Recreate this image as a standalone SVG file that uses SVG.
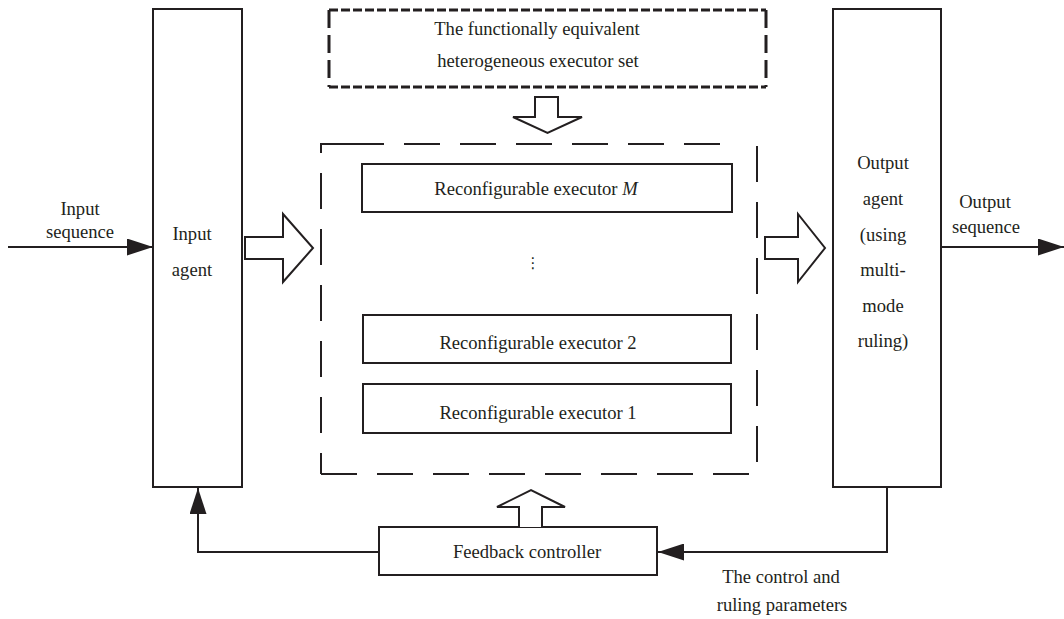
<svg xmlns="http://www.w3.org/2000/svg" width="1064" height="619" viewBox="0 0 1064 619">
  <style>
    .box { fill: #ffffff; stroke: #231f20; stroke-width: 2; }
    .lbl { font-family: "Liberation Serif", "Times New Roman", serif; font-size: 18.6px; fill: #231f20; text-anchor: middle; }
    .wire { fill: none; stroke: #231f20; stroke-width: 2; }
    .hollow { fill: #ffffff; stroke: #231f20; stroke-width: 2; stroke-linejoin: miter; }
    .setH { fill: none; stroke: #231f20; stroke-width: 3; stroke-dasharray: 9 3; }
    .setV { fill: none; stroke: #231f20; stroke-width: 3; stroke-dasharray: 18 7; }
    .pool { fill: none; stroke: #231f20; stroke-width: 2; stroke-dasharray: 36 20; }
  </style>
  <defs>
    <marker id="arrow" markerUnits="userSpaceOnUse" markerWidth="26" markerHeight="17" refX="26" refY="8.5" orient="auto">
      <path d="M0,0 L26,8.5 L0,17 Z" fill="#231f20"/>
    </marker>
  </defs>

  <rect width="1064" height="619" fill="#ffffff"/>

  <!-- executor set (thick short-dashed frame) -->
  <g id="executor-set">
    <path class="setH" d="M329,10 H766 M329,87 H766"/>
    <path class="setV" d="M329,10 V87 M766,10 V87"/>
    <text class="lbl" x="537" y="35">The functionally equivalent</text>
    <text class="lbl" x="538" y="67">heterogeneous executor set</text>
  </g>

  <!-- dashed pool of active executors -->
  <g id="executor-pool">
    <path class="pool" d="M348,144 H321 V474 M321,474 H757 M757,146 V474 M348,144 H740"/>
  </g>

  <g id="input-agent">
    <rect class="box" x="153" y="9" width="89" height="478"/>
    <text class="lbl" x="192" y="240">Input</text>
    <text class="lbl" x="192" y="276">agent</text>
  </g>

  <g id="output-agent">
    <rect class="box" x="833" y="9" width="108" height="478"/>
    <text class="lbl" x="883" y="169">Output</text>
    <text class="lbl" x="883" y="205">agent</text>
    <text class="lbl" x="883" y="241">(using</text>
    <text class="lbl" x="883" y="276">multi-</text>
    <text class="lbl" x="883" y="312">mode</text>
    <text class="lbl" x="883" y="347">ruling)</text>
  </g>

  <g id="executor-m">
    <rect class="box" x="362" y="164" width="370" height="48"/>
    <text class="lbl" x="536" y="195">Reconfigurable executor <tspan font-style="italic">M</tspan></text>
  </g>

  <g id="ellipsis">
    <text x="533" y="268" font-family="'DejaVu Serif', 'DejaVu Sans', serif" font-size="15" fill="#231f20" text-anchor="middle">⋮</text>
  </g>

  <g id="executor-2">
    <rect class="box" x="363" y="315" width="368" height="48"/>
    <text class="lbl" x="538" y="349">Reconfigurable executor 2</text>
  </g>

  <g id="executor-1">
    <rect class="box" x="363" y="384" width="368" height="49"/>
    <text class="lbl" x="538" y="419">Reconfigurable executor 1</text>
  </g>

  <g id="feedback-controller">
    <rect class="box" x="379" y="527" width="278" height="48"/>
    <text class="lbl" x="527" y="558">Feedback controller</text>
  </g>

  <g id="connectors">
    <!-- input / output sequences -->
    <line class="wire" x1="8" y1="247" x2="153" y2="247" marker-end="url(#arrow)"/>
    <line class="wire" x1="941" y1="247" x2="1064" y2="247" marker-end="url(#arrow)"/>
    <!-- feedback loop -->
    <polyline class="wire" points="379,552 198,552 198,488" marker-end="url(#arrow)"/>
    <polyline class="wire" points="887,487 887,552 658,552" marker-end="url(#arrow)"/>
    <!-- hollow block arrows -->
    <path class="hollow" d="M245,237 L283,237 L283,214 L313,248 L283,282 L283,259 L245,259 Z"/>
    <path class="hollow" d="M765,237 L798,237 L798,214 L825,248 L798,282 L798,259 L765,259 Z"/>
    <path class="hollow" d="M535,97 L558,97 L558,117 L582,117 L547.5,133 L513,117 L535,117 Z"/>
    <path class="hollow" d="M519,527 L519,507 L497,507 L531,490 L565,507 L542,507 L542,527"/>
  </g>

  <g id="labels">
    <text class="lbl" x="80" y="215">Input</text>
    <text class="lbl" x="80" y="238">sequence</text>
    <text class="lbl" x="985" y="208">Output</text>
    <text class="lbl" x="986" y="233">sequence</text>
    <text class="lbl" x="781" y="583">The control and</text>
    <text class="lbl" x="782" y="611">ruling parameters</text>
  </g>
</svg>
